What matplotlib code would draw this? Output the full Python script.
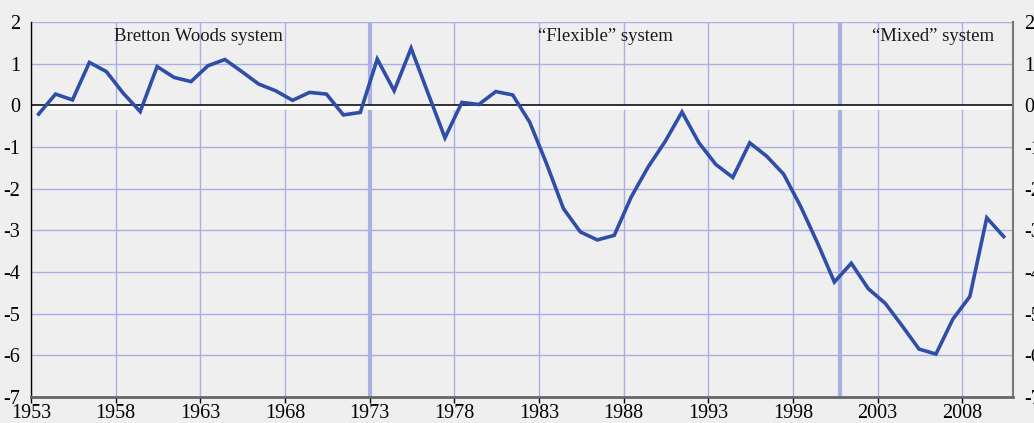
import matplotlib.pyplot as plt
import numpy as np

# annual values, 1953-2010 (plotted at mid-year)
years = np.arange(1953, 2011)
values = [
    -0.21, 0.27, 0.13, 1.03, 0.81, 0.29, -0.15, 0.93, 0.67, 0.57,
    0.95, 1.10, 0.81, 0.51, 0.35, 0.12, 0.31, 0.27, -0.23, -0.17,
    1.11, 0.35, 1.37, 0.29, -0.78, 0.07, 0.02, 0.33, 0.25, -0.40,
    -1.40, -2.48, -3.04, -3.23, -3.12, -2.20, -1.48, -0.87, -0.16, -0.90,
    -1.42, -1.73, -0.90, -1.22, -1.65, -2.42, -3.30, -4.24, -3.79, -4.40,
    -4.75, -5.29, -5.85, -5.97, -5.13, -4.59, -2.70, -3.15,
]
regime_breaks = [1973.0, 2000.8]
regime_labels = ["Bretton Woods system", "\u201cFlexible\u201d system", "\u201cMixed\u201d system"]
label_x = [1962.9, 1986.95, 2006.25]
xticks = np.arange(1953, 2011, 5)
yticks = np.arange(-7, 3, 1)

bg = "#efefef"
grid_col = "#a9aee6"
line_col = "#2f4ea8"

plt.rcParams["font.family"] = ["Liberation Serif", "DejaVu Serif"]
plt.rcParams["axes.unicode_minus"] = False

fig = plt.figure(figsize=(10.34, 4.23), dpi=100, facecolor=bg)
ax = fig.add_axes([31 / 1034, 26 / 423, (1013 - 31) / 1034, (401 - 26) / 423])
ax.set_facecolor(bg)

ax.set_xlim(1953, 2011)
ax.set_ylim(-7, 2)
ax.set_xticks(xticks)
ax.set_yticks(yticks)
ax.grid(True, color=grid_col, lw=1.0)
ax.set_axisbelow(True)

for xb in regime_breaks:
    ax.axvline(xb, color="#aab0e2", lw=3, zorder=1.5)

ax.axhline(-0.03, color="white", lw=3.5, zorder=2)
ax.axhline(0.02, color="black", lw=1.1, zorder=2.1)

ax.plot(years + 0.45, values, color=line_col, lw=2.6, zorder=3,
        solid_joinstyle="miter")

for txt, xl in zip(regime_labels, label_x):
    ax.text(xl, 1.66, txt, ha="center", va="center", fontsize=13.5,
            color="#1a1a1a", zorder=4)

ax.spines["top"].set_visible(False)
ax.spines["left"].set_color("black")
ax.spines["left"].set_linewidth(1.0)
ax.spines["bottom"].set_color("#666666")
ax.spines["bottom"].set_linewidth(2.0)
ax.spines["right"].set_color("#777777")
ax.spines["right"].set_linewidth(1.5)

ax.tick_params(axis="x", direction="out", length=4, width=1, labelsize=14.5, pad=1)
ax.tick_params(axis="y", length=0, labelsize=14.5, pad=8)

ax2 = ax.twinx()
ax2.set_ylim(-7, 2)
ax2.set_yticks(yticks)
ax2.tick_params(axis="y", length=0, labelsize=14.5, pad=8)
for side in ["top", "left", "bottom", "right"]:
    ax2.spines[side].set_visible(False)

fig.savefig("out.png", dpi=100, facecolor=bg)
